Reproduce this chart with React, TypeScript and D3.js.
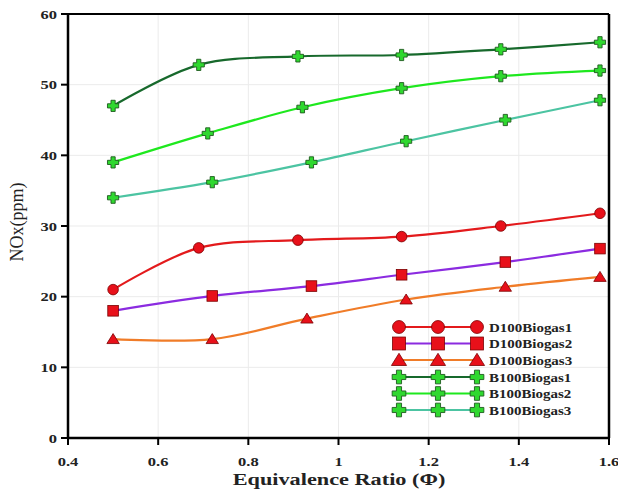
import React from "react";
import * as d3 from "d3";

const xTicks = [0.4, 0.6, 0.8, 1, 1.2, 1.4, 1.6];
const yTicks = [0, 10, 20, 30, 40, 50, 60];

const seriesNames = ["D100Biogas1", "D100Biogas2", "D100Biogas3", "B100Biogas1", "B100Biogas2", "B100Biogas3"];
const seriesColors = ["#e31a1c", "#8b2be0", "#f07c28", "#17692c", "#1ee81e", "#4cc4a2"];
const seriesMarkers = ["circle", "square", "triangle", "plus", "plus", "plus"];

const d1x = [0.5, 0.69, 0.91, 1.14, 1.36, 1.58];
const d1y = [21, 26.9, 28, 28.5, 30, 31.8];
const d2x = [0.5, 0.72, 0.94, 1.14, 1.37, 1.58];
const d2y = [18, 20.1, 21.5, 23.1, 24.9, 26.8];
const d3x = [0.5, 0.72, 0.93, 1.15, 1.37, 1.58];
const d3y = [14, 14, 16.9, 19.6, 21.4, 22.8];
const b1x = [0.5, 0.69, 0.91, 1.14, 1.36, 1.58];
const b1y = [47, 52.8, 54, 54.2, 55, 56];
const b2x = [0.5, 0.71, 0.92, 1.14, 1.36, 1.58];
const b2y = [39, 43.1, 46.8, 49.5, 51.2, 52];
const b3x = [0.5, 0.72, 0.94, 1.15, 1.37, 1.58];
const b3y = [34, 36.2, 39, 42, 45, 47.8];

const allX = [d1x, d2x, d3x, b1x, b2x, b3x];
const allY = [d1y, d2y, d3y, b1y, b2y, b3y];

const L = 68, R = 609, T = 14, B = 438;
const FONT = "'Liberation Serif', 'Times New Roman', serif";
const SX = 1.32;

function Marker({ type, x, y, s = 1 }: { type: string; x: number; y: number; s?: number }) {
  if (type === "circle") return <circle cx={x} cy={y} r={5.3 * s} fill="#e8101a" stroke="#7a0000" strokeWidth={0.8} />;
  if (type === "square") return <rect x={x - 5.3 * s} y={y - 5.3 * s} width={10.6 * s} height={10.6 * s} fill="#e8101a" stroke="#7a0000" strokeWidth={0.8} />;
  if (type === "triangle") return <path d={`M${x},${y - 5.5 * s}L${x + 6.2 * s},${y + 4.5 * s}L${x - 6.2 * s},${y + 4.5 * s}Z`} fill="#e8101a" stroke="#7a0000" strokeWidth={0.8} />;
  const a = 2.1 * s, b = 5.6 * s;
  const d = `M${x - a},${y - b}H${x + a}V${y - a}H${x + b}V${y + a}H${x + a}V${y + b}H${x - a}V${y + a}H${x - b}V${y - a}H${x - a}Z`;
  return <path d={d} fill="#2fd82f" stroke="#1e5a1e" strokeWidth={0.9} />;
}

function SText({ x, y, sx, anchor, size, weight, children }: { x: number; y: number; sx: number; anchor?: string; size: number; weight?: string; children: React.ReactNode }) {
  return (
    <text transform={`translate(${x},${y}) scale(${sx},1)`} textAnchor={anchor || "start"} fontFamily={FONT} fontWeight={weight || "bold"} fontSize={size} fill="#222">
      {children}
    </text>
  );
}

export default function App() {
  const x = d3.scaleLinear().domain([0.4, 1.6]).range([L, R]);
  const y = d3.scaleLinear().domain([0, 60]).range([B, T]);
  const line = d3.line<[number, number]>().x(d => x(d[0])).y(d => y(d[1])).curve(d3.curveCatmullRom.alpha(0.5));

  const legendRows = [327, 343.5, 360, 377, 393.5, 410];
  const legendMarkX = [399, 438, 477];

  return (
    <svg width={618} height={493} style={{ position: "absolute", left: 0, top: 0, background: "#fff" }}>
      {xTicks.slice(1, -1).map(t => (
        <line key={"gx" + t} x1={x(t)} x2={x(t)} y1={T} y2={B} stroke="#ebebeb" strokeWidth={1} />
      ))}
      {yTicks.slice(1, -1).map(t => (
        <line key={"gy" + t} x1={L} x2={R} y1={y(t)} y2={y(t)} stroke="#ebebeb" strokeWidth={1} />
      ))}
      {allX.map((xs, i) => {
        const pts = xs.map((v, j) => [v, allY[i][j]] as [number, number]);
        return (
          <g key={i}>
            <path d={line(pts) || ""} fill="none" stroke={seriesColors[i]} strokeWidth={2.2} />
            {pts.map((p, j) => <Marker key={j} type={seriesMarkers[i]} x={x(p[0])} y={y(p[1])} />)}
          </g>
        );
      })}
      <line x1={L} x2={R} y1={T} y2={T} stroke="#000" strokeWidth={2} />
      <line x1={R} x2={R} y1={T} y2={B} stroke="#000" strokeWidth={2.5} />
      <line x1={L} x2={L} y1={T - 1} y2={B + 1} stroke="#000" strokeWidth={2.5} />
      <line x1={L - 1} x2={R + 1} y1={B} y2={B} stroke="#000" strokeWidth={2.5} />
      {yTicks.map(t => (
        <g key={"yt" + t}>
          <line x1={L - 7} x2={L} y1={y(t)} y2={y(t)} stroke="#000" strokeWidth={2} />
          <SText x={L - 11} y={y(t) + 4.5} sx={SX} anchor="end" size={12.5}>{t}</SText>
        </g>
      ))}
      {xTicks.map(t => (
        <g key={"xt" + t}>
          <line x1={x(t)} x2={x(t)} y1={B} y2={B + 7} stroke="#000" strokeWidth={2} />
          <SText x={x(t)} y={B + 28} sx={SX} anchor="middle" size={12.5}>{t}</SText>
        </g>
      ))}
      <SText x={339} y={485} sx={1.35} anchor="middle" size={16.5}>Equivalence Ratio (Φ)</SText>
      <text transform={`translate(23,${222}) rotate(-90)`} textAnchor="middle" fontFamily={FONT} fontSize={18} fill="#222">NOx(ppm)</text>
      {seriesNames.map((n, i) => (
        <g key={n}>
          <line x1={legendMarkX[0]} x2={legendMarkX[2]} y1={legendRows[i]} y2={legendRows[i]} stroke={seriesColors[i]} strokeWidth={2.2} />
          {legendMarkX.map(mx => <Marker key={mx} type={seriesMarkers[i]} x={mx} y={legendRows[i]} s={1.22} />)}
          <SText x={489} y={legendRows[i] + 4.5} sx={1.17} size={12.8}>{n}</SText>
        </g>
      ))}
    </svg>
  );
}
